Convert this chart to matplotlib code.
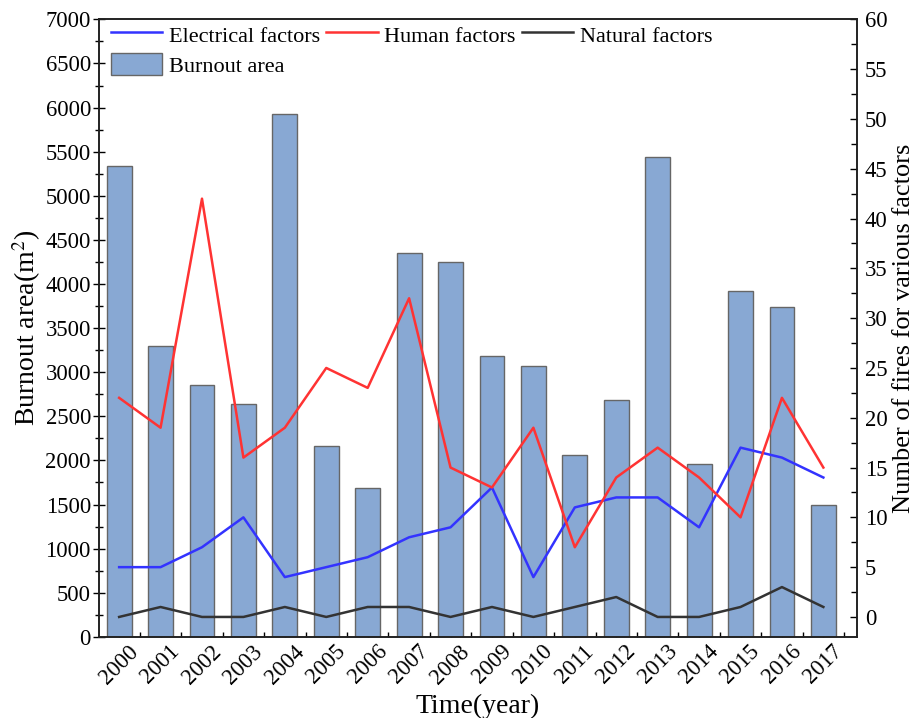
import matplotlib
matplotlib.use("Agg")
import matplotlib.pyplot as plt
from matplotlib.ticker import MultipleLocator
import numpy as np

years = ["2000", "2001", "2002", "2003", "2004", "2005", "2006", "2007", "2008",
         "2009", "2010", "2011", "2012", "2013", "2014", "2015", "2016", "2017"]
burnout_area = [5340, 3300, 2860, 2640, 5930, 2160, 1690, 4350, 4250,
                3180, 3070, 2060, 2690, 5440, 1960, 3920, 3740, 1500]
electrical = [5, 5, 7, 10, 4, 5, 6, 8, 9, 13, 4, 11, 12, 12, 9, 17, 16, 14]
human = [22, 19, 42, 16, 19, 25, 23, 32, 15, 13, 19, 7, 14, 17, 14, 10, 22, 15]
natural = [0, 1, 0, 0, 1, 0, 1, 1, 0, 1, 0, 1, 2, 0, 0, 1, 3, 1]

plt.rcParams['font.family'] = ['Liberation Serif', 'DejaVu Serif']
plt.rcParams['mathtext.fontset'] = 'stix'

fig = plt.figure(figsize=(9.19, 7.18), dpi=100)
ax = fig.add_axes([0.108, 0.113, 0.824, 0.860])
x = np.arange(len(years))

bars = ax.bar(x, burnout_area, width=0.6, color='#88A8D3', edgecolor='#666666',
              linewidth=1.0, label='Burnout area', zorder=2)
ax.set_xlim(-0.48, 17.8)
ax.set_ylim(0, 7000)
ax.yaxis.set_major_locator(MultipleLocator(500))
ax.yaxis.set_minor_locator(MultipleLocator(250))
ax.set_xticks(x)
ax.set_xticklabels(years, rotation=45, ha='center', va='top')
ax.xaxis.set_minor_locator(MultipleLocator(0.5))
ax.tick_params(axis='y', which='major', direction='inout', length=8, width=1, labelsize=16.3, pad=2)
ax.tick_params(axis='y', which='minor', direction='inout', length=6, width=1)
ax.tick_params(axis='x', which='major', direction='in', length=4, width=1, labelsize=16.3, pad=3)
ax.tick_params(axis='x', which='minor', direction='in', length=3.5, width=1)
ax.set_ylabel('Burnout area(m$^2$)', fontsize=20, labelpad=2)
ax.set_xlabel('Time(year)', fontsize=20, labelpad=4)

ax2 = ax.twinx()
l1, = ax2.plot(x, electrical, color='#3333FF', lw=1.8, label='Electrical factors', zorder=3)
l2, = ax2.plot(x, human, color='#FF3333', lw=1.8, label='Human factors', zorder=3)
l3, = ax2.plot(x, natural, color='#333333', lw=1.8, label='Natural factors', zorder=3)
ax2.set_ylim(-2, 60)
ax2.yaxis.set_major_locator(MultipleLocator(5))
ax2.yaxis.set_minor_locator(MultipleLocator(2.5))
ax2.tick_params(axis='y', which='major', direction='in', length=5, width=1, labelsize=16.3, pad=6)
ax2.tick_params(axis='y', which='minor', direction='in', length=4, width=1)
ax2.set_ylabel('Number of fires for various factors', fontsize=19, labelpad=4)

for a in (ax, ax2):
    for s in a.spines.values():
        s.set_linewidth(1.2)
        s.set_color('#222222')

leg = ax2.legend(handles=[l1, bars, l2, l3],
                 labels=['Electrical factors', 'Burnout area', 'Human factors', 'Natural factors'],
                 ncol=3, loc='upper left', bbox_to_anchor=(0.008, 1.003), frameon=False,
                 fontsize=16, handlelength=2.3, handleheight=1.15, handletextpad=0.3,
                 columnspacing=0.3, labelspacing=0.3, borderaxespad=0.0, borderpad=0.25)

fig.savefig('out.png', dpi=100)
